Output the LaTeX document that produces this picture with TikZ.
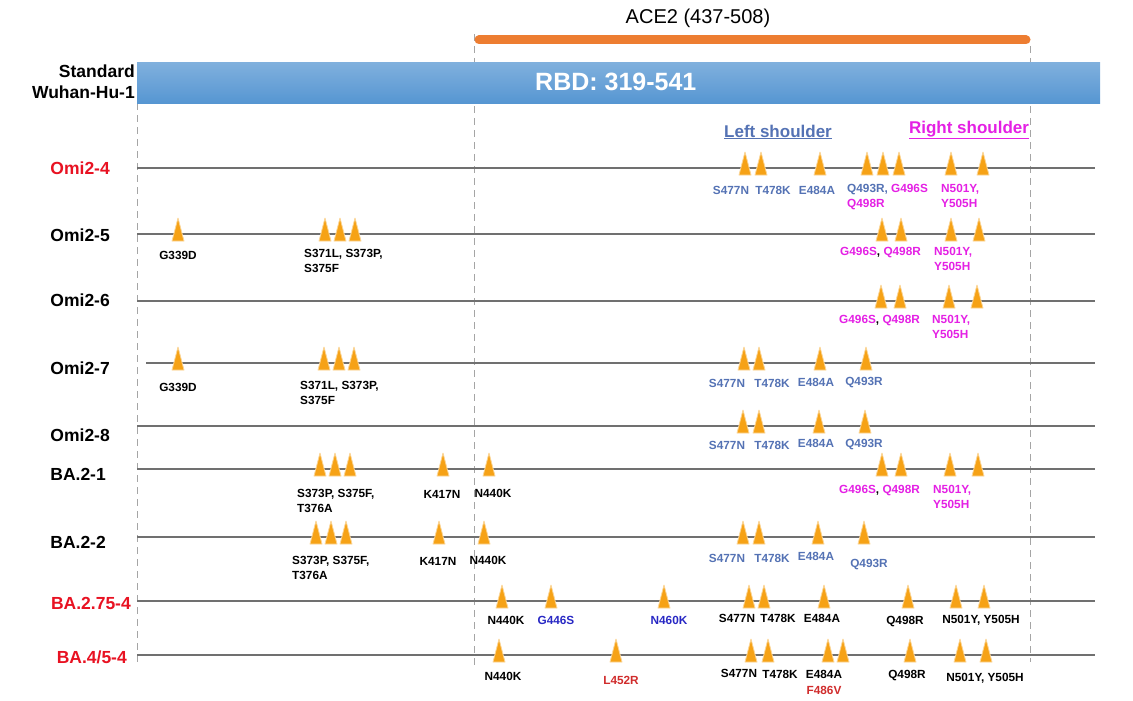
\documentclass[tikz,border=0pt]{standalone}
\usepackage{fontspec}
\setmainfont{Liberation Sans}
\usetikzlibrary{positioning}

\definecolor{rbdblue}{RGB}{86,150,210}
\definecolor{acecol}{RGB}{237,125,49}
\definecolor{trkgray}{RGB}{112,112,112}
\definecolor{guidegray}{RGB}{165,165,165}
\definecolor{tricol}{RGB}{246,162,22}
\definecolor{lshcol}{RGB}{84,114,180}
\definecolor{rshcol}{RGB}{228,32,228}
\definecolor{varred}{RGB}{232,18,34}
\definecolor{newblue}{RGB}{40,40,196}
\definecolor{newred}{RGB}{208,44,44}

\begin{document}
\begin{tikzpicture}[
    x=1pt, y=-1pt,
    every node/.style={inner sep=0pt},
    rowlab/.style={anchor=east, font=\fontsize{17.5}{20}\selectfont\bfseries},
    mlab/.style={font=\fontsize{11.8}{15}\selectfont\bfseries},
    mlist/.style={mlab, anchor=north west, align=left},
    track/.style={draw=trkgray, line width=2.6pt},
    guide/.style={draw=guidegray, line width=0.8pt, dash pattern=on 7pt off 5pt},
    tri/.style={fill=tricol, draw=tricol!45, line width=0.8pt, line join=round}
]
    \useasboundingbox (0,0) rectangle (1133,701);

    % Kopfzeile
    \draw[guide] (137,103) -- (137,664);
    \draw[guide] (474,34) -- (474,668);
    \draw[guide] (1030,46) -- (1030,662);
    \node[font=\fontsize{20}{24}\selectfont] (ace2) at (698,18) {ACE2 (437-508)};
    \coordinate (acea) at (479,40);
    \coordinate (aceb) at (1026,40);
    \draw[acecol, line width=9pt, line cap=round] (acea) -- (aceb);
    \node[top color=rbdblue!75!white, bottom color=rbdblue, minimum width=963pt,
          minimum height=41pt, anchor=north west] (rbd) at (137,62) {};
    \node[white, anchor=west, font=\fontsize{25}{28}\selectfont\bfseries] (rbdtxt) at (535,82) {RBD: 319-541};
    \node[anchor=east, align=right, font=\fontsize{17.5}{21}\selectfont\bfseries] (std) at (135,82) {Standard\\Wuhan-Hu-1};
    \node[lshcol, font=\fontsize{17}{20}\selectfont\bfseries] (lsh) at (778,132) {\underline{Left shoulder}};
    \node[rshcol, font=\fontsize{17}{20}\selectfont\bfseries] (rsh) at (969,130) {\underline{Right shoulder}};

    % Zeilen
    \node[rowlab, varred] (o4) at (110,168) {Omi2-4};
    \node[rowlab] (o5) at (110,235) {Omi2-5};
    \node[rowlab] (o6) at (110,300) {Omi2-6};
    \node[rowlab] (o7) at (110,368) {Omi2-7};
    \node[rowlab] (o8) at (110,435) {Omi2-8};
    \node[rowlab] (b1) at (106,474) {BA.2-1};
    \node[rowlab] (b2) at (106,542) {BA.2-2};
    \node[rowlab, varred] (b75) at (131,603) {BA.2.75-4};
    \node[rowlab, varred] (b45) at (127,657) {BA.4/5-4};

    \foreach \n/\y/\xa in {o4/168/137, o5/234/137, o6/301/137, o7/363/146, o8/426/137,
                           b1/469/137, b2/537/137, b75/601/137, b45/655/137} {
        \coordinate (\n a) at (\xa,\y);
        \coordinate (\n b) at (1095,\y);
        \draw[track] (\n a) -- (\n b);
    }

    % Mutationen
    \foreach \x in {745,761,820,867,883,899,951,983}
        \draw[tri] (\x,168) +(-6,7) -- +(0,-16) -- +(6,7) -- cycle;
    \foreach \x in {178,325,340,355,882,901,951,979}
        \draw[tri] (\x,234) +(-6,7) -- +(0,-16) -- +(6,7) -- cycle;
    \foreach \x in {881,900,949,977}
        \draw[tri] (\x,301) +(-6,7) -- +(0,-16) -- +(6,7) -- cycle;
    \foreach \x in {178,324,339,354,744,759,820,866}
        \draw[tri] (\x,363) +(-6,7) -- +(0,-16) -- +(6,7) -- cycle;
    \foreach \x in {743,759,819,865}
        \draw[tri] (\x,426) +(-6,7) -- +(0,-16) -- +(6,7) -- cycle;
    \foreach \x in {320,335,350,443,489,882,901,950,978}
        \draw[tri] (\x,469) +(-6,7) -- +(0,-16) -- +(6,7) -- cycle;
    \foreach \x in {316,331,346,439,484,743,759,818,864}
        \draw[tri] (\x,537) +(-6,7) -- +(0,-16) -- +(6,7) -- cycle;
    \foreach \x in {502,551,664,749,764,824,908,956,984}
        \draw[tri] (\x,601) +(-6,7) -- +(0,-16) -- +(6,7) -- cycle;
    \foreach \x in {499,616,751,768,828,843,910,960,986}
        \draw[tri] (\x,655) +(-6,7) -- +(0,-16) -- +(6,7) -- cycle;

    % Omi2-4
    \node[mlab, lshcol] (m4a) at (731,190) {S477N};
    \node[mlab, lshcol] (m4b) at (773,190) {T478K};
    \node[mlab, lshcol] (m4c) at (817,190) {E484A};
    \node[mlist] (m4d) at (847,184) {\textcolor{lshcol}{Q493R,} \textcolor{rshcol}{G496S}\\\textcolor{rshcol}{Q498R}};
    \node[mlist, rshcol] (m4e) at (941,184) {N501Y,\\Y505H};
    % Omi2-5
    \node[mlab] (m5a) at (178,255) {G339D};
    \node[mlist] (m5b) at (304,249) {S371L, S373P,\\S375F};
    \node[mlist, rshcol] (m5c) at (840,247) {G496S\textcolor{black}{,} Q498R};
    \node[mlist, rshcol] (m5d) at (934,247) {N501Y,\\Y505H};
    % Omi2-6
    \node[mlist, rshcol] (m6a) at (839,315) {G496S\textcolor{black}{,} Q498R};
    \node[mlist, rshcol] (m6b) at (932,315) {N501Y,\\Y505H};
    % Omi2-7
    \node[mlab] (m7a) at (178,387) {G339D};
    \node[mlist] (m7b) at (300,381) {S371L, S373P,\\S375F};
    \node[mlab, lshcol] (m7c) at (727,383) {S477N};
    \node[mlab, lshcol] (m7d) at (772,383) {T478K};
    \node[mlab, lshcol] (m7e) at (816,382) {E484A};
    \node[mlab, lshcol] (m7f) at (864,383) {Q493R};
    % Omi2-8
    \node[mlab, lshcol] (m8a) at (727,445) {S477N};
    \node[mlab, lshcol] (m8b) at (772,445) {T478K};
    \node[mlab, lshcol] (m8c) at (816,443) {E484A};
    \node[mlab, lshcol] (m8d) at (864,445) {Q493R};
    % BA.2-1
    \node[mlist] (n1a) at (297,489) {S373P, S375F,\\T376A};
    \node[mlab] (n1b) at (442,494) {K417N};
    \node[mlab] (n1c) at (493,493) {N440K};
    \node[mlist, rshcol] (n1d) at (839,485) {G496S\textcolor{black}{,} Q498R};
    \node[mlist, rshcol] (n1e) at (933,485) {N501Y,\\Y505H};
    % BA.2-2
    \node[mlist] (n2a) at (292,556) {S373P, S375F,\\T376A};
    \node[mlab] (n2b) at (438,561) {K417N};
    \node[mlab] (n2c) at (488,560) {N440K};
    \node[mlab, lshcol] (n2d) at (727,558) {S477N};
    \node[mlab, lshcol] (n2e) at (772,558) {T478K};
    \node[mlab, lshcol] (n2f) at (816,556) {E484A};
    \node[mlab, lshcol] (n2g) at (869,565) {Q493R};
    % BA.2.75-4
    \node[mlab] (n75a) at (506,620) {N440K};
    \node[mlab, newblue] (n75b) at (556,620) {G446S};
    \node[mlab, newblue] (n75c) at (669,620) {N460K};
    \node[mlab] (n75d) at (737,618) {S477N};
    \node[mlab] (n75e) at (778,618) {T478K};
    \node[mlab] (n75f) at (822,618) {E484A};
    \node[mlab] (n75g) at (905,622) {Q498R};
    \node[mlab] (n75h) at (981,620) {N501Y, Y505H};
    % BA.4/5-4
    \node[mlab] (n45a) at (503,676) {N440K};
    \node[mlab, newred] (n45b) at (621,680) {L452R};
    \node[mlab] (n45c) at (739,673) {S477N};
    \node[mlab] (n45d) at (780,674) {T478K};
    \node[mlab] (n45e) at (824,674) {E484A};
    \node[mlab, newred] (n45f) at (824,690) {F486V};
    \node[mlab] (n45g) at (907,676) {Q498R};
    \node[mlab] (n45h) at (985,678) {N501Y, Y505H};
\end{tikzpicture}
\end{document}
